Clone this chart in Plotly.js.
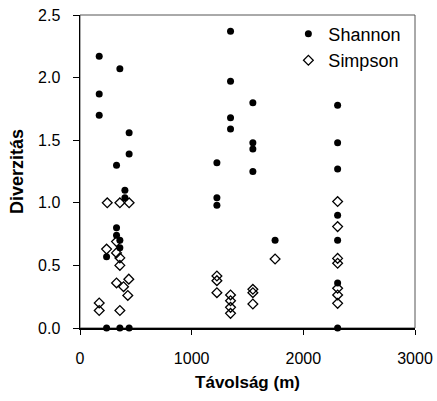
<!DOCTYPE html>
<html>
<head>
<meta charset="utf-8">
<script src="https://cdn.plot.ly/plotly-3.0.1.min.js"></script>
<style>html,body{margin:0;padding:0;background:#fff}#chart{width:437px;height:401px}</style>
</head>
<body>
<div id="chart"></div>
<script>
// Shannon index values (distance in m, diversity)
const shannonX = [172,172,172,357,440,440,327,402,402,327,327,357,357,238,238,357,440,
                  1226,1226,1226,1348,1348,1348,1348,1548,1548,1548,1548,1747,
                  2307,2307,2307,2307,2307,2307,2307];
const shannonY = [2.17,1.87,1.70,2.07,1.56,1.39,1.30,1.10,1.04,0.80,0.74,0.70,0.64,0.57,0,0,0,
                  1.32,1.04,0.98,2.37,1.97,1.68,1.59,1.80,1.48,1.43,1.25,0.70,
                  1.78,1.48,1.27,0.90,0.70,0.36,0];
// Simpson index values
const simpsonX = [244,357,440,327,238,327,357,357,327,390,437,428,172,172,357,
                  1226,1226,1226,1348,1348,1348,1348,1548,1548,1548,1747,
                  2307,2307,2307,2307,2307,2307,2307];
const simpsonY = [1.00,1.00,1.00,0.69,0.63,0.60,0.56,0.50,0.36,0.33,0.39,0.26,0.20,0.14,0.14,
                  0.415,0.378,0.282,0.264,0.218,0.165,0.117,0.309,0.282,0.192,0.551,
                  1.01,0.81,0.556,0.517,0.317,0.264,0.197];
const xTicks = [0,1000,2000,3000];
const yTicks = [0,0.5,1.0,1.5,2.0,2.5];
const yTickText = ['0.0','0.5','1.0','1.5','2.0','2.5'];

const font = 'Liberation Sans, Arial, sans-serif';
const traces = [
  {x: shannonX, y: shannonY, mode: 'markers', type: 'scatter', name: 'Shannon',
   marker: {symbol: 'circle', size: 7, color: '#000'}, cliponaxis: false},
  {x: simpsonX, y: simpsonY, mode: 'markers', type: 'scatter', name: 'Simpson',
   marker: {symbol: 'diamond-open', size: 7.5, color: '#000', line: {width: 1.3, color: '#000'}}, cliponaxis: false}
];
const layout = {
  width: 437, height: 401,
  margin: {l: 80, r: 22, t: 15, b: 73},
  paper_bgcolor: '#fff', plot_bgcolor: '#fff',
  font: {family: font, color: '#000', size: 16},
  showlegend: true,
  legend: {x: 0.622, y: 0.998, xanchor: 'left', yanchor: 'top', bgcolor: 'rgba(0,0,0,0)',
           font: {family: font, size: 18, color: '#000'}, tracegroupgap: 0, itemwidth: 30},
  xaxis: {range: [0, 3000], tickvals: xTicks, ticktext: xTicks.map(String),
          showgrid: false, zeroline: false, showline: true, linecolor: '#000', linewidth: 1.5,
          ticks: 'outside', ticklen: 5, tickwidth: 1, tickcolor: '#000', ticklabelstandoff: 10,
          tickfont: {family: font, size: 16},
          title: {text: '<b>Távolság (m)</b>', font: {family: font, size: 17}, standoff: 10}},
  yaxis: {range: [0, 2.5], tickvals: yTicks, ticktext: yTickText,
          showgrid: false, zeroline: false, showline: true, linecolor: '#000', linewidth: 1.5,
          ticks: 'outside', ticklen: 6, tickwidth: 1, tickcolor: '#000', ticklabelstandoff: 9,
          tickfont: {family: font, size: 16},
          title: {text: '<b>Diverzitás</b>', font: {family: font, size: 18}, standoff: 9}},
  shapes: [{type: 'rect', xref: 'paper', yref: 'paper', x0: 0, x1: 1, y0: 0, y1: 1,
            line: {color: '#555', width: 1}, layer: 'below'}]
};
Plotly.newPlot('chart', traces, layout, {displayModeBar: false, staticPlot: true});
</script>
</body>
</html>
